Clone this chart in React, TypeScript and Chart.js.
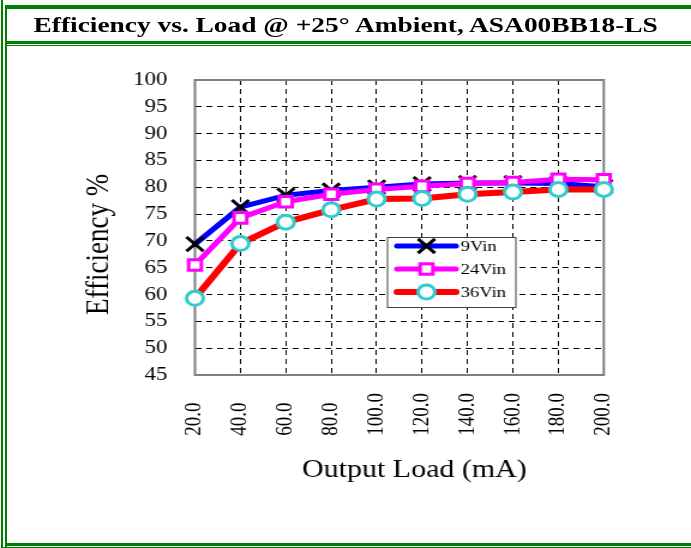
import React, { useEffect, useRef } from "react";
import { Chart, registerables } from "chart.js";

Chart.register(...registerables);

// ---------- data ----------
const loadLabels = ["20.0", "40.0", "60.0", "80.0", "100.0", "120.0", "140.0", "160.0", "180.0", "200.0"];
const eff9Vin = [69.4, 76.3, 78.5, 79.4, 80.0, 80.6, 80.8, 80.8, 80.7, 80.1];
const eff24Vin = [65.5, 74.3, 77.3, 78.7, 79.6, 80.2, 80.7, 80.9, 81.5, 81.4];
const eff36Vin = [59.3, 69.5, 73.5, 75.8, 77.8, 77.9, 78.7, 79.1, 79.6, 79.6];
const seriesNames = ["9Vin", "24Vin", "36Vin"];
const yMin = 45;
const yMax = 100;
const yStep = 5;

const chartTitle = "Efficiency vs. Load @ +25\u00B0 Ambient, ASA00BB18-LS";
const xTitle = "Output Load (mA)";
const yTitle = "Efficiency %";

// ---------- layout ----------
const PAGE_W = 691;
const PAGE_H = 548;
const CANVAS_W = 576;
const SX = PAGE_W / CANVAS_W;
const FONT = "'Liberation Serif', 'Times New Roman', Times, serif";
const GREEN = "#008000";

const maxLabelLen = Math.max(...loadLabels.map((l) => l.length));

function drawMarker(ctx: CanvasRenderingContext2D, style: string, x: number, y: number, r: number, stroke: string, fill: string, lw: number) {
  ctx.save();
  ctx.lineWidth = lw;
  ctx.strokeStyle = stroke;
  ctx.fillStyle = fill;
  ctx.beginPath();
  if (style === "crossRot") {
    const d = r * Math.SQRT1_2;
    ctx.moveTo(x - d, y - d);
    ctx.lineTo(x + d, y + d);
    ctx.moveTo(x - d, y + d);
    ctx.lineTo(x + d, y - d);
    ctx.stroke();
  } else if (style === "rect") {
    const s = r * Math.SQRT1_2;
    ctx.rect(x - s, y - s, 2 * s, 2 * s);
    ctx.fill();
    ctx.stroke();
  } else {
    ctx.arc(x, y, r, 0, Math.PI * 2);
    ctx.fill();
    ctx.stroke();
  }
  ctx.restore();
}

const framePlugin = {
  id: "plotFrame",
  beforeDatasetsDraw(chart: any) {
    const { ctx, chartArea: a } = chart;
    ctx.save();
    ctx.strokeStyle = "#7f7f7f";
    ctx.lineWidth = 2;
    ctx.strokeRect(a.left, a.top, a.right - a.left, a.bottom - a.top);
    ctx.restore();
  },
};

const boxLegendPlugin = {
  id: "boxLegend",
  afterDatasetsDraw(chart: any) {
    const { ctx } = chart;
    const bx = 322.5, by = 237, bw = 107, bh = 70;
    ctx.save();
    ctx.fillStyle = "#ffffff";
    ctx.fillRect(bx, by, bw, bh);
    ctx.strokeStyle = "#404040";
    ctx.lineWidth = 1;
    ctx.strokeRect(bx + 0.5, by + 0.5, bw, bh);
    chart.data.datasets.forEach((ds: any, i: number) => {
      const y = 246 + i * 23;
      const x0 = 331, x1 = 380, xm = (x0 + x1) / 2;
      ctx.save();
      ctx.strokeStyle = ds.borderColor;
      ctx.lineWidth = ds.borderWidth;
      ctx.lineCap = "round";
      ctx.beginPath();
      ctx.moveTo(x0, y);
      ctx.lineTo(x1, y);
      ctx.stroke();
      ctx.restore();
      drawMarker(ctx, ds.pointStyle, xm, y, ds.pointRadius, ds.pointBorderColor, ds.pointBackgroundColor, ds.pointBorderWidth);
      ctx.fillStyle = "#000";
      ctx.font = `15.5px ${FONT}`;
      ctx.textAlign = "left";
      ctx.textBaseline = "middle";
      ctx.fillText(ds.label, 384, y + 1);
    });
    ctx.restore();
  },
};

export default function App() {
  const ref = useRef<HTMLCanvasElement>(null);

  useEffect(() => {
    const canvas = ref.current;
    if (!canvas) return;
    const chart = new Chart(canvas, {
      type: "line",
      data: {
        labels: loadLabels,
        datasets: [
          {
            label: seriesNames[0],
            data: eff9Vin,
            borderColor: "#0000ff",
            borderWidth: 5,
            pointStyle: "crossRot",
            pointRadius: 10,
            pointBorderColor: "#000000",
            pointBackgroundColor: "#000000",
            pointBorderWidth: 3,
            borderCapStyle: "round",
            borderJoinStyle: "round",
            order: 3,
            clip: false,
          },
          {
            label: seriesNames[1],
            data: eff24Vin,
            borderColor: "#ff00ff",
            borderWidth: 5,
            pointStyle: "rect",
            pointRadius: 7.5,
            pointBorderColor: "#ff00ff",
            pointBackgroundColor: "#ffffff",
            pointBorderWidth: 3,
            borderCapStyle: "round",
            borderJoinStyle: "round",
            order: 2,
            clip: false,
          },
          {
            label: seriesNames[2],
            data: eff36Vin,
            borderColor: "#ff0000",
            borderWidth: 6,
            pointStyle: "circle",
            pointRadius: 7,
            pointBorderColor: "#33cccc",
            pointBackgroundColor: "#ffffff",
            pointBorderWidth: 3,
            borderCapStyle: "round",
            borderJoinStyle: "round",
            order: 1,
            clip: false,
          },
        ] as any,
      },
      options: {
        responsive: false,
        animation: false,
        devicePixelRatio: 1,
        layout: { padding: { left: 50, right: CANVAS_W - 503.3, top: 80, bottom: 0 } },
        plugins: {
          legend: { display: false },
          title: { display: false },
          tooltip: { enabled: false },
        },
        scales: {
          x: {
            type: "category",
            offset: false,
            afterFit: (s: any) => {
              s.height = PAGE_H - 375;
            },
            grid: {
              color: "#000000",
              lineWidth: 1,
              drawTicks: false,
              offset: false,
            },
            border: { display: false, dash: [5, 4] },
            ticks: {
              autoSkip: false,
              minRotation: 90,
              maxRotation: 90,
              padding: 18,
              color: "#000",
              font: { family: FONT, size: 19 },
              callback: (_v: any, i: number) => loadLabels[i] + " ".repeat(2 * (maxLabelLen - loadLabels[i].length)),
            },
            title: {
              display: true,
              text: "    " + xTitle,
              color: "#000",
              font: { family: FONT, size: 25 },
              padding: { top: 0, bottom: 63 },
            },
          },
          y: {
            min: yMin,
            max: yMax,
            afterFit: (s: any) => {
              s.width = 112.5;
            },
            grid: {
              color: "#000000",
              lineWidth: 1,
              drawTicks: false,
            },
            border: { display: false, dash: [5, 4] },
            ticks: {
              stepSize: yStep,
              padding: 23,
              color: "#000",
              font: { family: FONT, size: 19 },
            },
            title: {
              display: true,
              text: yTitle + "     ",
              color: "#000",
              font: { family: FONT, size: 27 },
              padding: { top: 17, bottom: 0 },
            },
          },
        },
      } as any,
      plugins: [framePlugin, boxLegendPlugin],
    });
    return () => chart.destroy();
  }, []);

  const bar = (l: number, t: number, w: number, h: number) => (
    <div style={{ position: "absolute", left: l, top: t, width: w, height: h, background: GREEN }} />
  );

  return (
    <div style={{ position: "absolute", left: 0, top: 0, width: PAGE_W, height: PAGE_H, background: "#fff", overflow: "hidden" }}>
      <div style={{ position: "absolute", left: 0, top: 0, width: CANVAS_W, height: PAGE_H, transform: `scaleX(${SX})`, transformOrigin: "0 0" }}>
        <canvas ref={ref} width={CANVAS_W} height={PAGE_H} style={{ display: "block", width: CANVAS_W, height: PAGE_H }} />
      </div>
      {/* document table borders */}
      {bar(1, 0, 2, PAGE_H)}
      {bar(5, 5, 2, PAGE_H - 5)}
      {bar(5, 5, PAGE_W - 5, 4)}
      {bar(5, 41, PAGE_W - 5, 3)}
      {bar(5, 45, PAGE_W - 5, 1)}
      {bar(5, 543, PAGE_W - 5, 3)}
      {bar(1, 547, PAGE_W - 1, 1)}
      <div
        style={{
          position: "absolute",
          left: 0,
          top: 14,
          width: PAGE_W,
          textAlign: "center",
          fontFamily: FONT,
          fontWeight: "bold",
          fontSize: 22,
          lineHeight: "22px",
          color: "#000",
          whiteSpace: "nowrap",
        }}
      >
        <span style={{ display: "inline-block", transform: "scaleX(1.245)" }}>{chartTitle}</span>
      </div>
    </div>
  );
}
